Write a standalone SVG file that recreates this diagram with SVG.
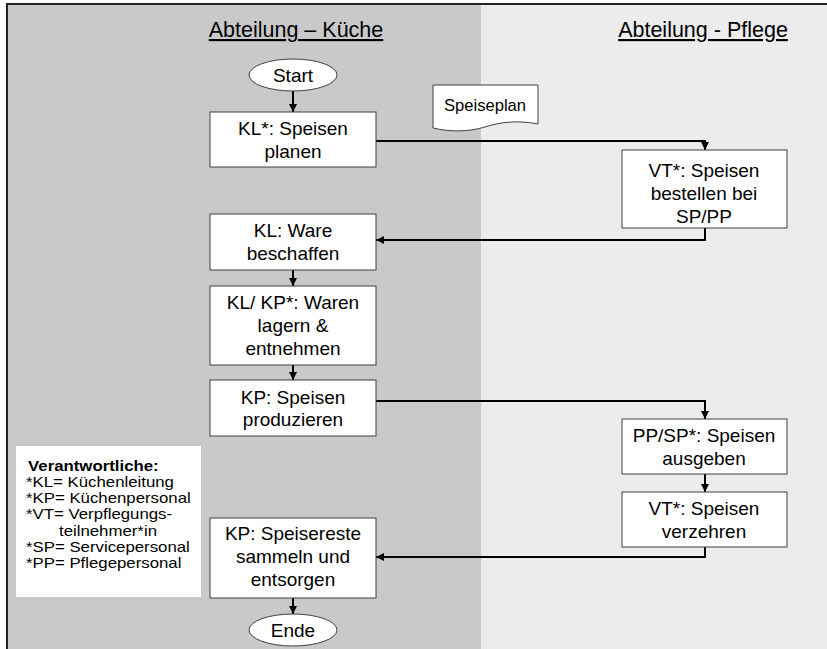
<svg xmlns="http://www.w3.org/2000/svg" width="827" height="649" viewBox="0 0 827 649">
<style>
text{font-family:"Liberation Sans",Arial,sans-serif;fill:#000}
.t{font-size:19px;text-anchor:middle}
.h{font-size:21.5px;text-anchor:middle;text-decoration:underline}
.box{fill:#fff;stroke:#404040;stroke-width:1}
.c{fill:none;stroke:#000;stroke-width:2}
.lg{font-size:14px}
</style>
<defs>
<marker id="a" viewBox="0 0 10 10" refX="10" refY="5" markerWidth="4" markerHeight="4" orient="auto" markerUnits="strokeWidth">
<path d="M0,0 L10,5 L0,10 Z" fill="#000"/>
</marker>
</defs>
<rect x="0" y="0" width="827" height="649" fill="#fff"/>
<rect x="7" y="4" width="474" height="650" fill="#c9c9c9"/>
<rect x="481" y="4" width="350" height="650" fill="#ececec"/>
<path d="M7,660 V4 H830" fill="none" stroke="#222" stroke-width="2"/>
<text class="h" x="296" y="37">Abteilung – Küche</text>
<text class="h" x="703" y="37">Abteilung - Pflege</text>

<g id="connectors">
<line class="c" x1="293" y1="91" x2="293" y2="112" marker-end="url(#a)"/>
<polyline class="c" points="376,141 705,141 705,150" marker-end="url(#a)"/>
<polyline class="c" points="705,228 705,240 376,240" marker-end="url(#a)"/>
<line class="c" x1="293" y1="270" x2="293" y2="286" marker-end="url(#a)"/>
<line class="c" x1="293" y1="365" x2="293" y2="380" marker-end="url(#a)"/>
<polyline class="c" points="376,401 705,401 705,419" marker-end="url(#a)"/>
<line class="c" x1="705" y1="474" x2="705" y2="492" marker-end="url(#a)"/>
<polyline class="c" points="705,547 705,557 376,557" marker-end="url(#a)"/>
<line class="c" x1="293" y1="598" x2="293" y2="614" marker-end="url(#a)"/>
</g>

<g id="start">
<ellipse class="box" cx="293" cy="75" rx="44" ry="16"/>
<text class="t" x="293" y="82">Start</text>
</g>
<g id="speiseplan">
<path class="box" d="M433,85 H538 V124 C518,120 500,122 485,127 C468,132 450,132 433,128 Z"/>
<text x="485" y="111" style="font-size:16.6px;text-anchor:middle">Speiseplan</text>
</g>
<g id="kl-planen">
<rect class="box" x="210" y="112" width="166" height="55"/>
<text class="t" x="293" y="135">KL*: Speisen</text>
<text class="t" x="293" y="158">planen</text>
</g>
<g id="vt-bestellen">
<rect class="box" x="622" y="150" width="165" height="78"/>
<text class="t" x="704" y="177">VT*: Speisen</text>
<text class="t" x="704" y="200">bestellen bei</text>
<text class="t" x="704" y="223">SP/PP</text>
</g>
<g id="kl-beschaffen">
<rect class="box" x="210" y="214" width="166" height="56"/>
<text class="t" x="293" y="237">KL: Ware</text>
<text class="t" x="293" y="260">beschaffen</text>
</g>
<g id="lagern">
<rect class="box" x="210" y="286" width="166" height="79"/>
<text class="t" x="293" y="309">KL/ KP*: Waren</text>
<text class="t" x="293" y="332">lagern &amp;</text>
<text class="t" x="293" y="355">entnehmen</text>
</g>
<g id="produzieren">
<rect class="box" x="210" y="380" width="166" height="56"/>
<text class="t" x="293" y="404">KP: Speisen</text>
<text class="t" x="293" y="426">produzieren</text>
</g>
<g id="ausgeben">
<rect class="box" x="622" y="419" width="165" height="55"/>
<text class="t" x="704" y="442">PP/SP*: Speisen</text>
<text class="t" x="704" y="465">ausgeben</text>
</g>
<g id="verzehren">
<rect class="box" x="622" y="492" width="165" height="55"/>
<text class="t" x="704" y="515">VT*: Speisen</text>
<text class="t" x="704" y="538">verzehren</text>
</g>
<g id="entsorgen">
<rect class="box" x="210" y="518" width="166" height="80"/>
<text class="t" x="293" y="540">KP: Speisereste</text>
<text class="t" x="293" y="563">sammeln  und</text>
<text class="t" x="293" y="586">entsorgen</text>
</g>
<g id="ende">
<ellipse class="box" cx="293" cy="630" rx="44" ry="16"/>
<text class="t" x="293" y="637">Ende</text>
</g>
<g id="legend">
<rect x="16" y="446" width="185" height="151" fill="#fff"/>
<g transform="translate(26,0) scale(1.2,1)">
<text class="lg" x="1.7" y="471" style="font-weight:bold">Verantwortliche:</text>
<text class="lg" x="0" y="487">*KL= Küchenleitung</text>
<text class="lg" x="0" y="503">*KP= Küchenpersonal</text>
<text class="lg" x="0" y="519">*VT= Verpflegungs-</text>
<text class="lg" x="27.5" y="536">teilnehmer*in</text>
<text class="lg" x="0" y="552">*SP= Servicepersonal</text>
<text class="lg" x="0" y="568">*PP= Pflegepersonal</text>
</g>
</g>
</svg>
